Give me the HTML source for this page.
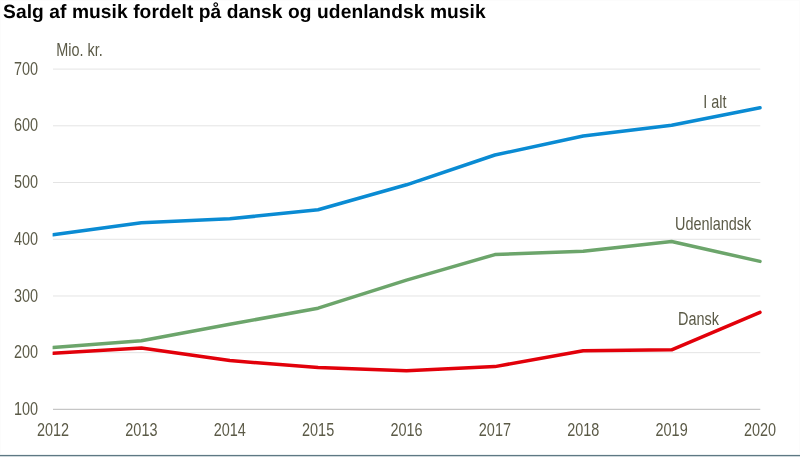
<!DOCTYPE html>
<html lang="da">
<head>
<meta charset="utf-8">
<title>Salg af musik fordelt på dansk og udenlandsk musik</title>
<style>
html,body{margin:0;padding:0;background:#fff;}
body{width:800px;height:458px;overflow:hidden;position:relative;font-family:"Liberation Sans",sans-serif;}
h1{position:absolute;left:3.4px;top:2px;margin:0;font-size:19.2px;line-height:22px;font-weight:bold;color:#000;white-space:nowrap;letter-spacing:0.08px;text-rendering:geometricPrecision;will-change:transform;}
svg{position:absolute;left:0;top:0;display:block;will-change:transform;}
svg text{font-family:"Liberation Sans",sans-serif;}
.rule{position:absolute;left:0;top:454px;width:800px;height:3px;background:linear-gradient(to bottom,#eef2f3 0,#eef2f3 1px,#5d7883 1px,#5d7883 2px,#cfd8dc 2px,#cfd8dc 3px);}
.edge{position:absolute;left:0;top:0;width:798px;height:454px;border:1px solid #fcfcfc;border-bottom:0;}
</style>
</head>
<body>
<h1>Salg af musik fordelt på dansk og udenlandsk musik</h1>
<svg width="800" height="458" viewBox="0 0 800 458">
<defs><clipPath id="pc"><rect x="52.6" y="60" width="720" height="352"/></clipPath></defs>
<g stroke="#e4e4e4" stroke-width="1">
<line x1="53" y1="352.68" x2="760.3" y2="352.68"/>
<line x1="53" y1="295.97" x2="760.3" y2="295.97"/>
<line x1="53" y1="239.25" x2="760.3" y2="239.25"/>
<line x1="53" y1="182.53" x2="760.3" y2="182.53"/>
<line x1="53" y1="125.82" x2="760.3" y2="125.82"/>
<line x1="53" y1="69.10" x2="760.3" y2="69.10"/>
</g>
<line x1="53" y1="409.40" x2="760.3" y2="409.40" stroke="#c6c6c6" stroke-width="1.3"/>
<text transform="translate(14.0 415.0) scale(0.826 1)" text-anchor="start" font-size="17.5" fill="#5b5a47">100</text>
<text transform="translate(14.0 358.3) scale(0.826 1)" text-anchor="start" font-size="17.5" fill="#5b5a47">200</text>
<text transform="translate(14.0 301.6) scale(0.826 1)" text-anchor="start" font-size="17.5" fill="#5b5a47">300</text>
<text transform="translate(14.0 244.8) scale(0.826 1)" text-anchor="start" font-size="17.5" fill="#5b5a47">400</text>
<text transform="translate(14.0 188.1) scale(0.826 1)" text-anchor="start" font-size="17.5" fill="#5b5a47">500</text>
<text transform="translate(14.0 131.4) scale(0.826 1)" text-anchor="start" font-size="17.5" fill="#5b5a47">600</text>
<text transform="translate(14.0 74.7) scale(0.826 1)" text-anchor="start" font-size="17.5" fill="#5b5a47">700</text>
<text transform="translate(56.2 55.7) scale(0.826 1)" text-anchor="start" font-size="17.5" fill="#5b5a47">Mio. kr.</text>
<text transform="translate(53.0 436.2) scale(0.826 1)" text-anchor="middle" font-size="17.5" fill="#5b5a47">2012</text>
<text transform="translate(141.4 436.2) scale(0.826 1)" text-anchor="middle" font-size="17.5" fill="#5b5a47">2013</text>
<text transform="translate(229.8 436.2) scale(0.826 1)" text-anchor="middle" font-size="17.5" fill="#5b5a47">2014</text>
<text transform="translate(318.1 436.2) scale(0.826 1)" text-anchor="middle" font-size="17.5" fill="#5b5a47">2015</text>
<text transform="translate(406.5 436.2) scale(0.826 1)" text-anchor="middle" font-size="17.5" fill="#5b5a47">2016</text>
<text transform="translate(494.9 436.2) scale(0.826 1)" text-anchor="middle" font-size="17.5" fill="#5b5a47">2017</text>
<text transform="translate(583.2 436.2) scale(0.826 1)" text-anchor="middle" font-size="17.5" fill="#5b5a47">2018</text>
<text transform="translate(671.6 436.2) scale(0.826 1)" text-anchor="middle" font-size="17.5" fill="#5b5a47">2019</text>
<text transform="translate(760.0 436.2) scale(0.826 1)" text-anchor="middle" font-size="17.5" fill="#5b5a47">2020</text>
<polyline fill="none" stroke="#0a8bd3" stroke-width="3.5" stroke-linejoin="round" stroke-linecap="round" clip-path="url(#pc)" points="53.0,234.7 141.4,222.8 229.8,218.8 318.1,209.8 406.5,184.8 494.9,155.0 583.2,136.0 671.6,125.2 760.0,107.7"/>
<polyline fill="none" stroke="#6ca56b" stroke-width="3.5" stroke-linejoin="round" stroke-linecap="round" clip-path="url(#pc)" points="53.0,347.6 141.4,340.8 229.8,324.3 318.1,308.2 406.5,280.1 494.9,254.6 583.2,251.2 671.6,241.5 760.0,261.4"/>
<polyline fill="none" stroke="#e2000a" stroke-width="3.5" stroke-linejoin="round" stroke-linecap="round" clip-path="url(#pc)" points="53.0,353.3 141.4,348.1 229.8,360.6 318.1,367.5 406.5,370.8 494.9,366.6 583.2,350.8 671.6,349.8 760.0,312.4"/>
<text transform="translate(703.3 107.7) scale(0.826 1)" text-anchor="start" font-size="17.5" fill="#5b5a47">I alt</text>
<text transform="translate(675.0 229.5) scale(0.826 1)" text-anchor="start" font-size="17.5" fill="#5b5a47">Udenlandsk</text>
<text transform="translate(678.0 324.5) scale(0.826 1)" text-anchor="start" font-size="17.5" fill="#5b5a47">Dansk</text>
</svg>
<div class="edge"></div>
<div class="rule"></div>
</body>
</html>
